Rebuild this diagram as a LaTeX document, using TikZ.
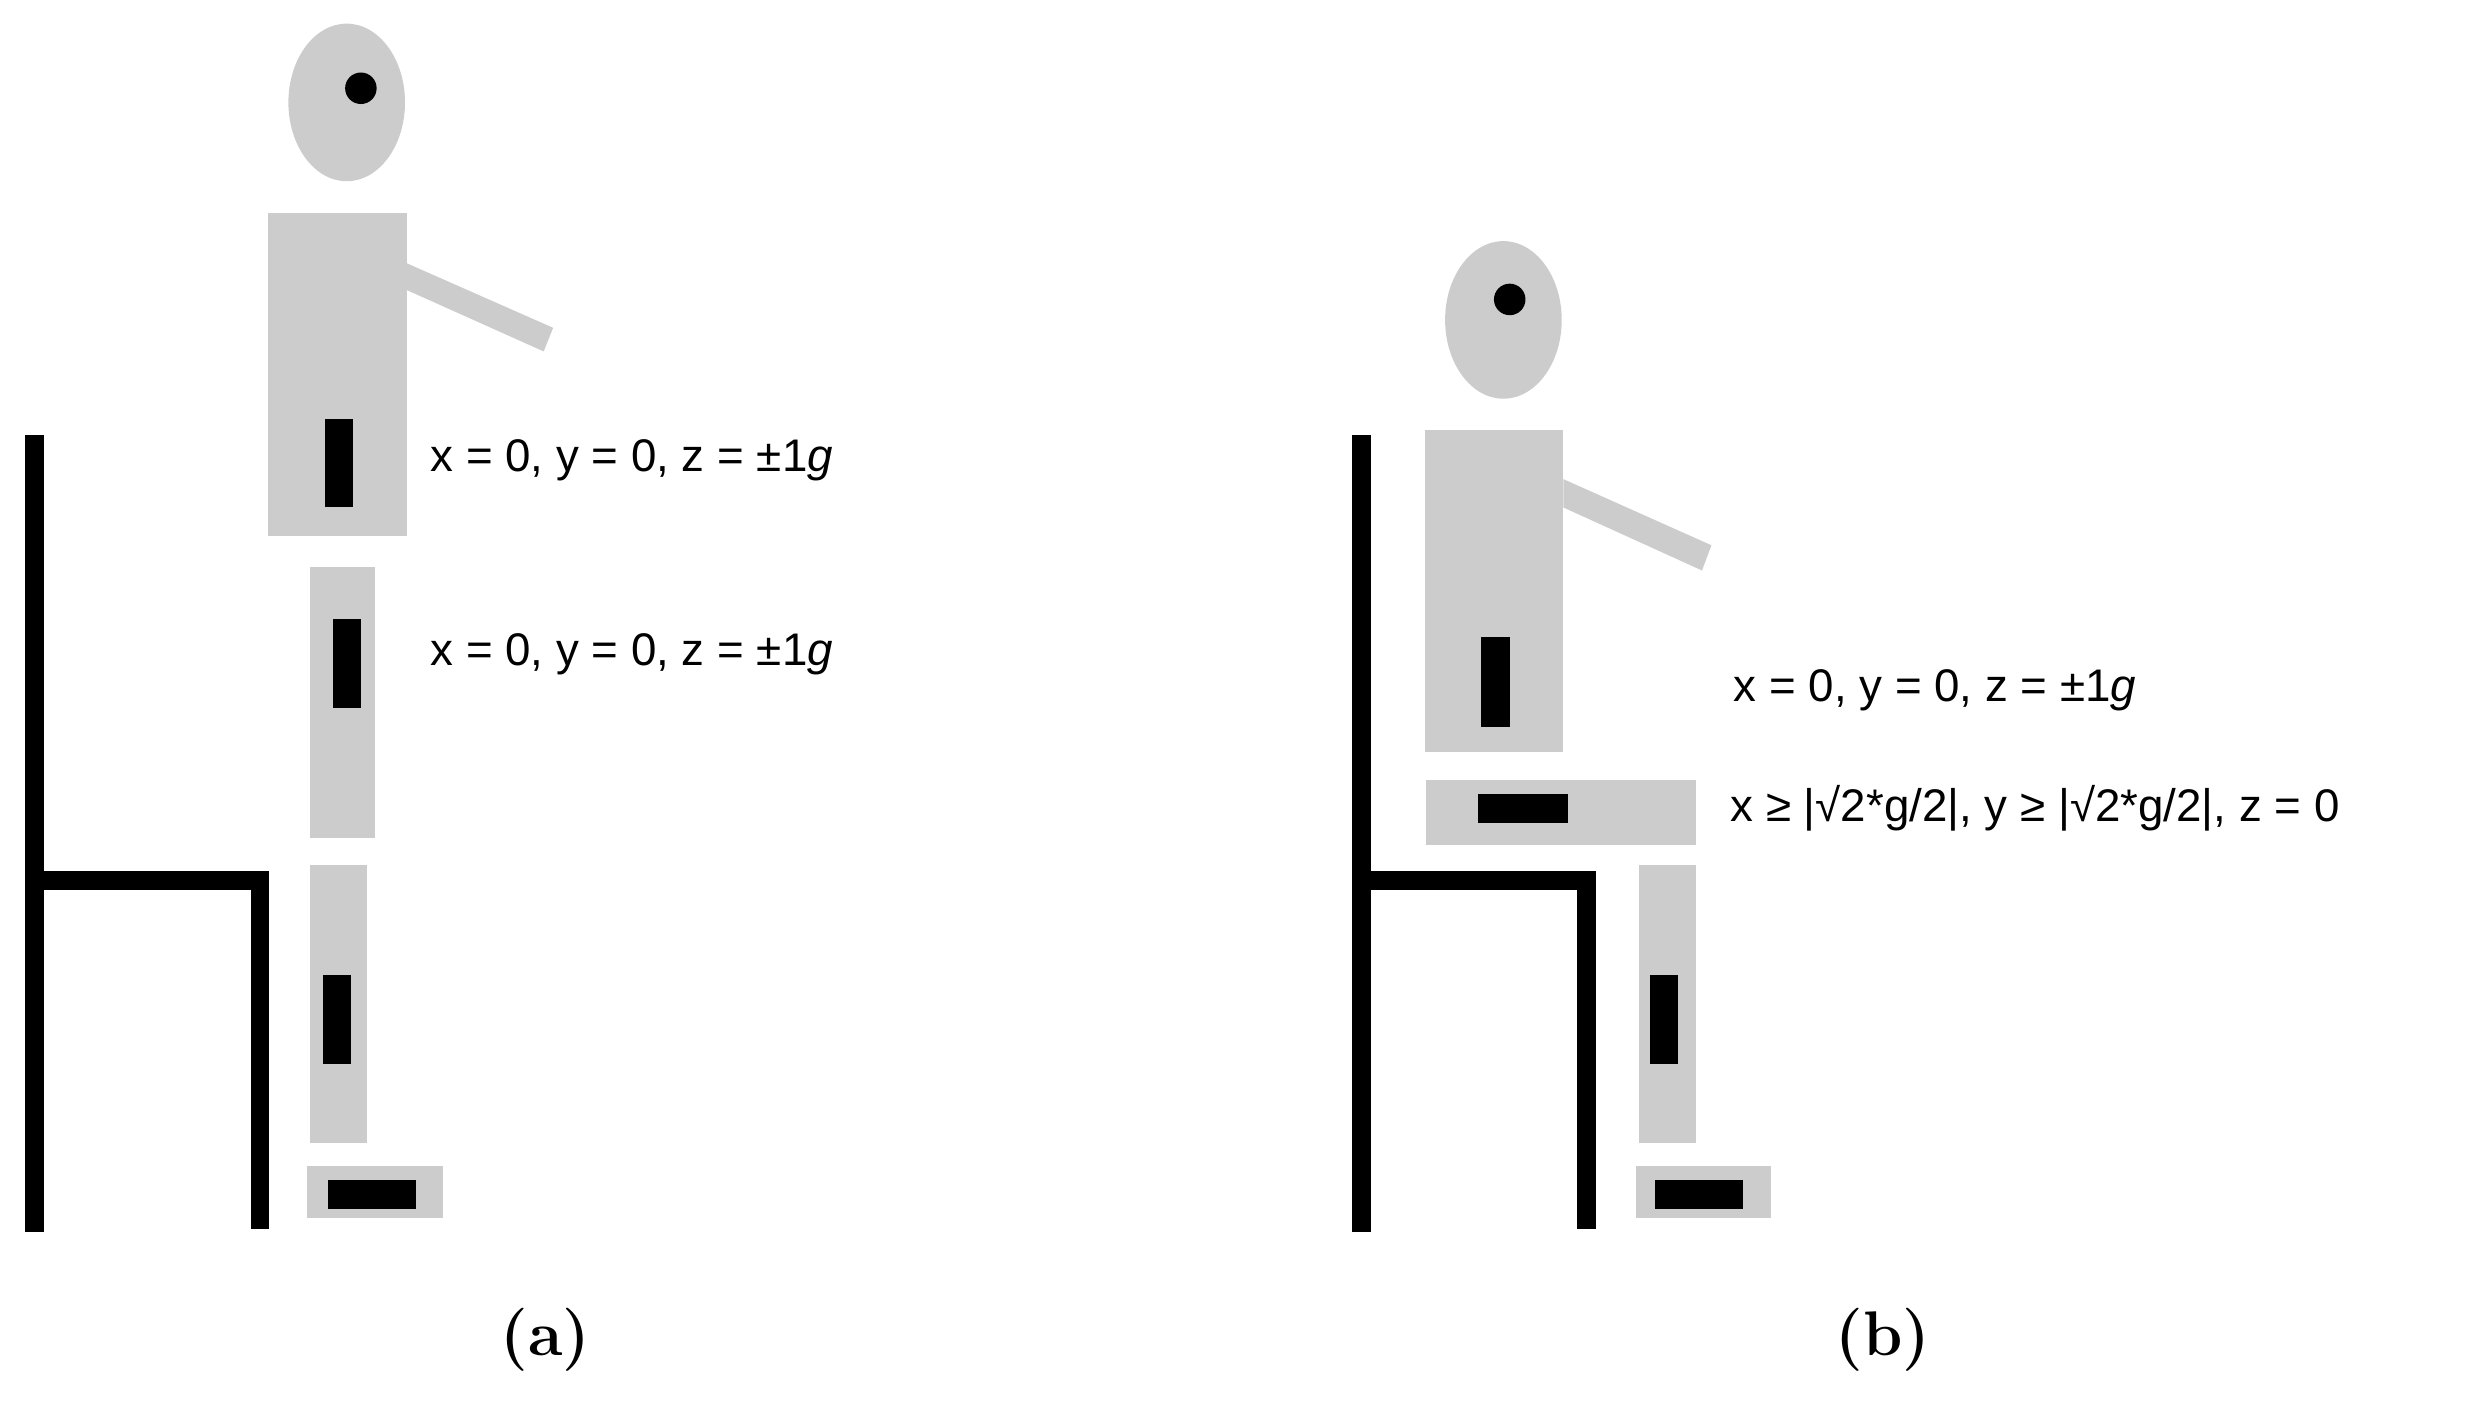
\documentclass[tikz,border=0pt]{standalone}
\usepackage{fontspec}
\newfontfamily\lab{Liberation Sans}
\definecolor{body}{HTML}{CCCCCC}
\begin{document}
\begin{tikzpicture}[x=1pt,y=-1pt,
  part/.style={fill=body,draw=none},
  sens/.style={fill=black,draw=none},
  chair/.style={line width=12pt,line cap=butt},
  lbl/.style={anchor=west,font=\lab\fontsize{29}{34}\selectfont,inner sep=0},
  captxt/.style={font=\fontsize{40}{46}\selectfont\bfseries}]
\useasboundingbox (0,0) rectangle (1568,892);
% ---- (a)
\draw[chair] (22,276) -- (22,782);
\draw[chair] (16,559) -- (171,559);
\draw[chair] (165,553) -- (165,780);
\fill[part] (220,65) ellipse [x radius=37,y radius=50];
\fill[black] (229,56) circle (10);
\fill[part] (170,135) rectangle (258,340);
\fill[part] (258,167) -- (351,208) -- (345,223) -- (258,184) -- cycle;
\fill[sens] (206,266) rectangle (224,322);
\fill[part] (197,360) rectangle (238,532);
\fill[sens] (211,393) rectangle (229,449);
\fill[part] (197,549) rectangle (233,725);
\fill[sens] (205,619) rectangle (223,675);
\fill[part] (195,740) rectangle (281,773);
\fill[sens] (208,749) rectangle (264,767);
\node[lbl] (ta1) at (273,292) {x = 0, y = 0, z = ±1\textit{g}};
\node[lbl] (ta2) at (273,415) {x = 0, y = 0, z = ±1\textit{g}};
\node[captxt] (ca) at (346,850) {(a)};
% ---- (b)
\draw[chair] (864,276) -- (864,782);
\draw[chair] (858,559) -- (1013,559);
\draw[chair] (1007,553) -- (1007,780);
\fill[part] (954,203) ellipse [x radius=37,y radius=50];
\fill[black] (958,190) circle (10);
\fill[part] (904,273) rectangle (992,477);
\fill[part] (992,304) -- (1086,346) -- (1080,362) -- (992,322) -- cycle;
\fill[sens] (940,404) rectangle (958,461);
\fill[part] (905,495) rectangle (1076,536);
\fill[sens] (938,504) rectangle (995,522);
\fill[part] (1040,549) rectangle (1076,725);
\fill[sens] (1047,619) rectangle (1065,675);
\fill[part] (1038,740) rectangle (1124,773);
\fill[sens] (1050,749) rectangle (1106,767);
\node[lbl] (tb1) at (1100,438) {x = 0, y = 0, z = ±1\textit{g}};
\node[lbl] (tb2) at (1098,513) {x ≥ |√2*g/2|, y ≥ |√2*g/2|, z = 0};
\node[captxt] (cb) at (1195,850) {(b)};
\end{tikzpicture}
\end{document}
